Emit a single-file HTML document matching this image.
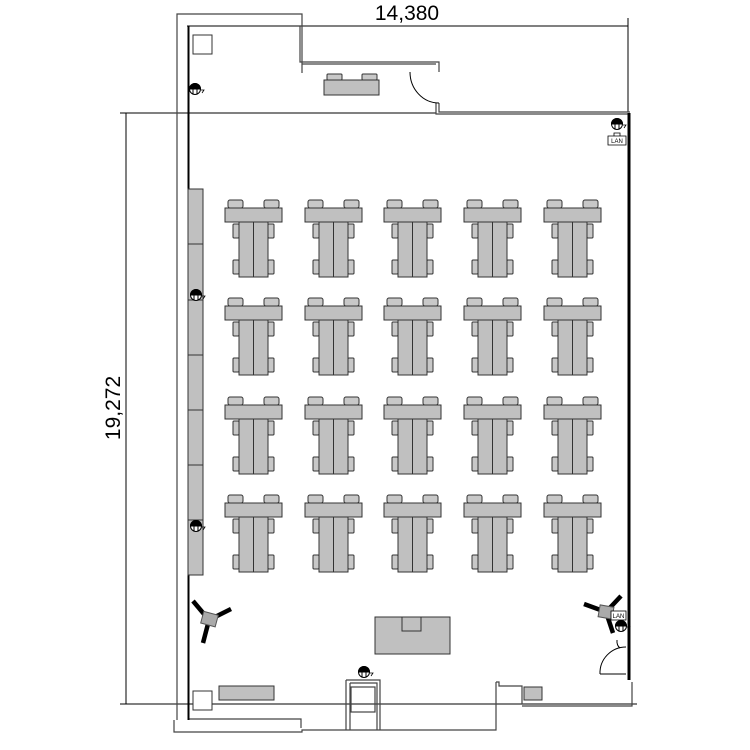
<!DOCTYPE html>
<html><head><meta charset="utf-8"><style>
html,body{margin:0;padding:0;background:#fff;}
svg{display:block;font-family:"Liberation Sans",sans-serif;}
</style></head><body>
<svg width="750" height="750" viewBox="0 0 750 750" xmlns="http://www.w3.org/2000/svg">
<defs>
<g id="grp" stroke="#333" stroke-width="1">
  <rect x="228" y="200" width="15" height="8" rx="2" fill="#c8c8c8"/>
  <rect x="264" y="200" width="15" height="8" rx="2" fill="#c8c8c8"/>
  <rect x="233" y="224" width="6" height="14" rx="1" fill="#c8c8c8"/>
  <rect x="233" y="260" width="6" height="14" rx="1" fill="#c8c8c8"/>
  <rect x="268" y="224" width="6" height="14" rx="1" fill="#c8c8c8"/>
  <rect x="268" y="260" width="6" height="14" rx="1" fill="#c8c8c8"/>
  <rect x="225" y="208" width="57" height="14" fill="#c0c0c0"/>
  <rect x="239" y="222" width="29" height="55" fill="#c0c0c0"/>
  <line x1="253.5" y1="222" x2="253.5" y2="277"/>
</g>
<g id="sock" stroke="#000" fill="none" stroke-width="1">
  <circle cx="0" cy="0" r="5.5" fill="#fff"/>
  <path d="M-5.5,0 A5.5,5.5 0 0 1 5.5,0 Z" fill="#000"/>
  <line x1="-2" y1="0" x2="-2" y2="5"/><line x1="2" y1="0" x2="2" y2="5"/>
  <path d="M6,1 l3,0 l-2,3" stroke-width="0.8"/>
</g>
</defs>

<!-- dimension lines -->
<g stroke="#000" stroke-width="1" fill="none">
  <line x1="187" y1="26" x2="628" y2="26"/>
  <line x1="628" y1="18" x2="628" y2="112"/>
  <line x1="120" y1="113" x2="436" y2="113"/>
  <line x1="126" y1="113" x2="126" y2="704"/>
  <line x1="120" y1="704" x2="637" y2="704"/>
</g>
<text x="407" y="20" font-size="21" text-anchor="middle">14,380</text>
<text transform="translate(120,408) rotate(-90)" font-size="21" text-anchor="middle">19,272</text>

<!-- walls -->
<g stroke="#444" stroke-width="1.2" fill="none">
  <path d="M177,720 L177,14 L302,14 L302,73"/>
  <path d="M300,26 L300,62 L439,62 L439,72"/>
  <path d="M302,64 L436,64"/>
  <path d="M439,103 L439,112 L630,112"/>
  <path d="M436,103 L436,114 L628,114"/>
  <path d="M174,720 L174,732 L302,732 L302,730 L496,730 L496,682"/>
  <path d="M188,719 L301,719 L301,728"/>
  <path d="M496,682 L499,682 L499,686 L522,686 L522,704"/>
  <path d="M522,706 L632,706 L632,682"/>
  <path d="M346,680 L380,680 L380,730 M346,680 L346,730"/>
  <path d="M350,683 L377,683 L377,730 M350,683 L350,730"/>
  <rect x="351" y="687" width="24" height="25"/>
</g>
<line x1="188.5" y1="26" x2="188.5" y2="720" stroke="#000" stroke-width="2"/>
<line x1="629" y1="113" x2="629" y2="680" stroke="#000" stroke-width="3"/>
<!-- doors -->
<g stroke="#000" stroke-width="1" fill="none">
  <path d="M410,72 A29,31 0 0 0 439,103"/>
  <path d="M600,674 L626,674 M600,674 A26,26 0 0 1 626,647"/>
  <path d="M617,640 A6,8 0 0 0 620,648"/>
</g>

<!-- small squares -->
<g stroke="#333" fill="#fff"><rect x="193" y="35" width="19" height="19"/><rect x="193" y="691" width="19" height="19"/></g>
<!-- top cabinet -->
<g stroke="#333">
  <rect x="327" y="74" width="15" height="6" rx="1" fill="#c8c8c8"/>
  <rect x="362" y="74" width="15" height="6" rx="1" fill="#c8c8c8"/>
  <rect x="324" y="80" width="55" height="15" fill="#c0c0c0"/>
</g>
<!-- left cabinets -->
<g stroke="#333" fill="#c0c0c0">
  <rect x="188" y="189" width="15" height="386"/>
  <path d="M188,244 h15 M188,300 h15 M188,355 h15 M188,410 h15 M188,465 h15 M188,520 h15" fill="none"/>
</g>
<!-- bottom items -->
<g stroke="#333">
  <rect x="219" y="686" width="55" height="14" fill="#c0c0c0"/>
  <rect x="524" y="687" width="18" height="13" fill="#c0c0c0"/>
  <rect x="375" y="617" width="75" height="37" fill="#c0c0c0"/>
  <rect x="402" y="617" width="19" height="14" fill="none"/>
</g>

<!-- tables -->
<g>
<use href="#grp"/><use href="#grp" x="80"/><use href="#grp" x="159"/><use href="#grp" x="239"/><use href="#grp" x="319"/>
<use href="#grp" y="98"/><use href="#grp" x="80" y="98"/><use href="#grp" x="159" y="98"/><use href="#grp" x="239" y="98"/><use href="#grp" x="319" y="98"/>
<use href="#grp" y="197"/><use href="#grp" x="80" y="197"/><use href="#grp" x="159" y="197"/><use href="#grp" x="239" y="197"/><use href="#grp" x="319" y="197"/>
<use href="#grp" y="295"/><use href="#grp" x="80" y="295"/><use href="#grp" x="159" y="295"/><use href="#grp" x="239" y="295"/><use href="#grp" x="319" y="295"/>
</g>

<!-- projectors -->
<g stroke="#000" stroke-width="4.5" stroke-linecap="butt">
  <line x1="209" y1="620" x2="193" y2="601"/><line x1="209" y1="620" x2="231" y2="609"/><line x1="209" y1="620" x2="203" y2="643"/>
  <line x1="606" y1="612" x2="584" y2="604"/><line x1="606" y1="612" x2="621" y2="596"/><line x1="606" y1="612" x2="613" y2="633"/>
</g>
<rect x="202" y="613" width="15" height="12" fill="#aaa" stroke="#555" transform="rotate(15 209 619)"/>
<rect x="599" y="606" width="14" height="12" fill="#aaa" stroke="#555" transform="rotate(10 606 612)"/>

<!-- sockets -->
<use href="#sock" x="195" y="89"/>
<use href="#sock" x="196" y="295"/>
<use href="#sock" x="196" y="526"/>
<use href="#sock" x="617" y="124"/>
<use href="#sock" x="621" y="626"/>
<use href="#sock" x="364" y="672"/>
<g font-size="6" stroke="#000" stroke-width="0.8" fill="#fff">
  <path d="M608,136 h18 v9 h-18 z M614,136 v-3 h6 v3"/>
  <rect x="611" y="611" width="15" height="9"/>
</g>
<text x="617" y="143" font-size="6" text-anchor="middle">LAN</text>
<text x="618.5" y="618" font-size="6" text-anchor="middle">LAN</text>
</svg>
</body></html>
